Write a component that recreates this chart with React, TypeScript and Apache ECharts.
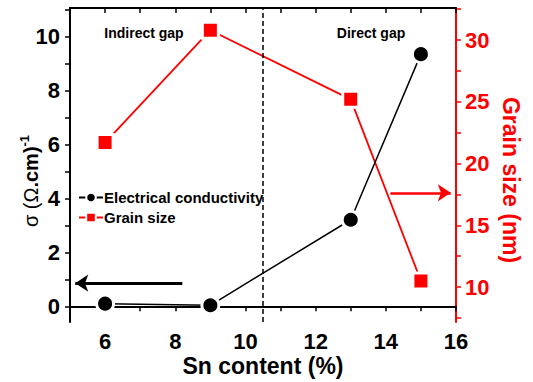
import React, { useEffect, useRef } from "react";
import * as echarts from "echarts";

const snContent = [6, 9, 13, 15];
const conductivity = [0.1, 0.04, 3.21, 9.35];
const grainSize = [21.7, 30.8, 25.2, 10.5];
const xLabels = [6, 8, 10, 12, 14, 16];
const xTicks = [5, 6, 7, 8, 9, 10, 11, 12, 13, 14, 15, 16];
const leftLabels = [0, 2, 4, 6, 8, 10];
const leftTicks = [0, 1, 2, 3, 4, 5, 6, 7, 8, 9, 10, 11];
const rightLabels = [10, 15, 20, 25, 30];
const rightTicks = [7.5, 10, 12.5, 15, 17.5, 20, 22.5, 25, 27.5, 30, 32.5];
const gapBoundary = 10.5;

const FONT = "'Liberation Sans', Arial, sans-serif";

export default function App() {
  const ref = useRef<HTMLDivElement>(null);
  useEffect(() => {
    if (!ref.current) return;
    const chart = echarts.init(ref.current, null, { renderer: "svg" });
    const leftMin = -0.58, leftMax = 11.06;
    const rightMin = 7.17, rightMax = 32.6;
    const option: any = {
      animation: false,
      backgroundColor: "#fff",
      textStyle: { fontFamily: FONT },
      grid: { left: 70, right: 77, top: 8, bottom: 60 },
      legend: {
        orient: "vertical",
        left: 73,
        top: 185,
        itemWidth: 24,
        itemHeight: 12,
        itemGap: 5,
        textStyle: { fontFamily: FONT, fontSize: 15, fontWeight: "bold", color: "#000", padding: [0, 0, 0, -4] },
        data: ["Electrical conductivity", "Grain size"],
      },
      xAxis: [
        {
          type: "value",
          min: 5,
          max: 16,
          position: "bottom",
          splitLine: { show: false },
          axisLine: { show: true, lineStyle: { color: "#000", width: 2 } },
          axisTick: { show: true, inside: false, length: 5, customValues: xTicks, lineStyle: { color: "#000", width: 1.5 } },
          axisLabel: { customValues: xLabels, fontFamily: FONT, fontSize: 22, fontWeight: "bold", color: "#000", margin: 8 },
        },
        {
          type: "value",
          min: 5,
          max: 16,
          position: "top",
          splitLine: { show: false },
          axisLine: { show: true, lineStyle: { color: "#000", width: 2 } },
          axisTick: { show: true, inside: true, length: 5, customValues: xTicks, lineStyle: { color: "#000", width: 1.5 } },
          axisLabel: { show: false },
        },
      ],
      yAxis: [
        {
          type: "value",
          min: leftMin,
          max: leftMax,
          position: "left",
          splitLine: { show: false },
          axisLine: { show: true, lineStyle: { color: "#000", width: 2 } },
          axisTick: { show: true, inside: false, length: 5, customValues: leftTicks, lineStyle: { color: "#000", width: 1.5 } },
          axisLabel: { customValues: leftLabels, fontFamily: FONT, fontSize: 22, fontWeight: "bold", color: "#000", margin: 10 },
        },
        {
          type: "value",
          min: rightMin,
          max: rightMax,
          position: "right",
          splitLine: { show: false },
          axisLine: { show: true, lineStyle: { color: "#ff0000", width: 2 } },
          axisTick: { show: true, inside: false, length: 5, customValues: rightTicks, lineStyle: { color: "#ff0000", width: 1.5 } },
          axisLabel: { customValues: rightLabels, fontFamily: FONT, fontSize: 22, fontWeight: "bold", color: "#ff0000", margin: 9 },
        },
      ],
      series: [
        {
          name: "Electrical conductivity",
          type: "line",
          xAxisIndex: 0,
          yAxisIndex: 0,
          data: snContent.map((x, i) => [x, conductivity[i]]),
          symbol: "circle",
          symbolSize: 17,
          color: "#000",
          itemStyle: { color: "#000", borderColor: "#fff", borderWidth: 3 },
          lineStyle: { color: "#000", width: 1.5 },
          z: 3,
          markLine: {
            silent: true,
            symbol: ["none", "arrow"],
            symbolSize: 13,
            label: { show: false },
            data: [
              [
                { coord: [gapBoundary, leftMin], symbol: "none", lineStyle: { color: "#000", width: 1.5, type: [5, 3] } },
                { coord: [gapBoundary, leftMax], symbol: "none" },
              ],
              [
                { coord: [8.2, 0.86], lineStyle: { color: "#000", width: 3, type: "solid" } },
                { coord: [5.15, 0.86] },
              ],
            ],
          },
        },
        {
          name: "Grain size",
          type: "line",
          xAxisIndex: 0,
          yAxisIndex: 1,
          data: snContent.map((x, i) => [x, grainSize[i]]),
          symbol: "rect",
          symbolSize: 16,
          color: "#ff0000",
          itemStyle: { color: "#ff0000", borderColor: "#fff", borderWidth: 3 },
          lineStyle: { color: "#ff0000", width: 1.8 },
          z: 2,
          markLine: {
            silent: true,
            symbol: ["none", "arrow"],
            symbolSize: 13,
            label: { show: false },
            lineStyle: { color: "#ff0000", width: 2.5, type: "solid" },
            data: [[{ coord: [14.13, 17.63] }, { coord: [15.85, 17.63] }]],
          },
        },
      ],
      graphic: [
        {
          type: "text",
          x: 144,
          y: 33,
          style: { text: "Indirect gap", fontFamily: FONT, fontSize: 14, fontWeight: "bold", fill: "#000", align: "center", verticalAlign: "middle" },
        },
        {
          type: "text",
          x: 371,
          y: 33,
          style: { text: "Direct gap", fontFamily: FONT, fontSize: 14, fontWeight: "bold", fill: "#000", align: "center", verticalAlign: "middle" },
        },
        {
          type: "text",
          x: 263,
          y: 366,
          style: { text: "Sn content (%)", fontFamily: FONT, fontSize: 23, fontWeight: "bold", fill: "#000", align: "center", verticalAlign: "middle" },
        },
        {
          type: "text",
          x: 511,
          y: 180,
          rotation: -Math.PI / 2,
          style: { text: "Grain size (nm)", fontFamily: FONT, fontSize: 23, fontWeight: "bold", fill: "#ff0000", align: "center", verticalAlign: "middle" },
        },
        {
          type: "text",
          x: 31,
          y: 181,
          rotation: Math.PI / 2,
          style: {
            text: "{r|σ (Ω}{a|.cm)}{b|-1}",
            align: "center",
            verticalAlign: "middle",
            rich: {
              r: { fontFamily: FONT, fontSize: 20, fontWeight: "normal", fill: "#000", lineHeight: 24 },
              a: { fontFamily: FONT, fontSize: 20, fontWeight: "bold", fill: "#000", lineHeight: 24 },
              b: { fontFamily: FONT, fontSize: 13, fontWeight: "bold", fill: "#000", lineHeight: 24, padding: [0, 0, 14, 0] },
            },
          },
        },
      ],
    };
    chart.setOption(option);
    return () => chart.dispose();
  }, []);
  return <div ref={ref} style={{ position: "fixed", left: 0, top: 0, width: 533, height: 382 }} />;
}
